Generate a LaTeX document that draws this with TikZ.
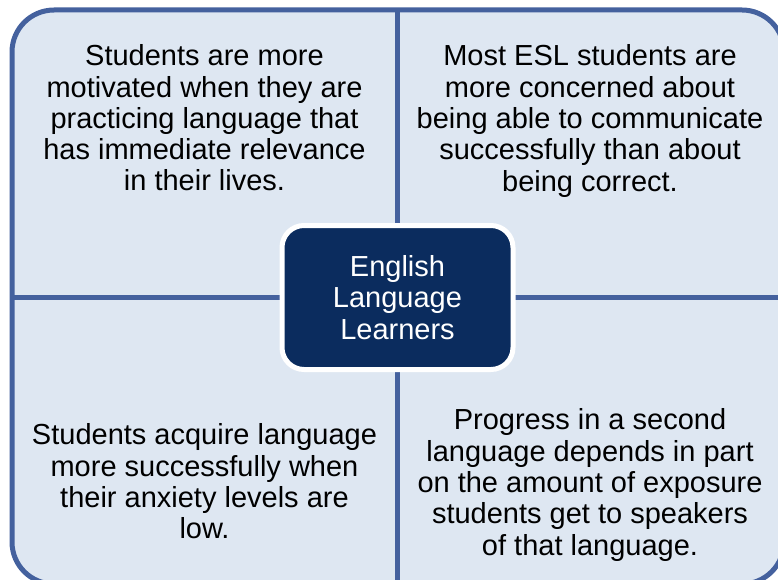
\documentclass[tikz,border=0pt]{standalone}
\usepackage{fontspec}
\setmainfont{Liberation Sans}
\definecolor{qfill}{HTML}{DEE7F2}
\definecolor{qline}{HTML}{44619E}
\definecolor{navy}{HTML}{0B2C5E}
\begin{document}
\begin{tikzpicture}[x=1pt,y=-1pt,
  qtext/.style={align=center, inner sep=0pt, text=black,
    font=\fontsize{29}{31.3}\selectfont},
  hub/.style={align=center, inner sep=0pt, text=white, fill=navy,
    draw=white, line width=5pt, rounded corners=22pt,
    minimum width=231pt, minimum height=144pt,
    font=\fontsize{29}{31.3}\selectfont},
  frame/.style={draw=qline, line width=5pt}]
\useasboundingbox (0,0) rectangle (778,580);
\clip (0,0) rectangle (778,580);
\coordinate (top) at (397,10);
\coordinate (bot) at (397,584);
\coordinate (lft) at (12,297);
\coordinate (rgt) at (784,297);
\draw[frame, fill=qfill, rounded corners=42pt] (12,10) rectangle (784,584);
\draw[frame] (top) -- (bot);
\draw[frame] (lft) -- (rgt);
\node[hub] (c) at (397.5,297.5) {English\\Language\\Learners};
\node[qtext] (tl) at (204.5,118) {Students are more\\motivated when they are\\practicing language that\\has immediate relevance\\in their lives.};
\node[qtext] (tr) at (590,121) {Most ESL students are\\more concerned about\\being able to communicate\\successfully than about\\being correct.};
\node[qtext] (bl) at (204.5,481.5) {Students acquire language\\more successfully when\\their anxiety levels are\\low.};
\node[qtext] (br) at (590,485) {Progress in a second\\language depends in part\\on the amount of exposure\\students get to speakers\\of that language.};
\end{tikzpicture}
\end{document}
